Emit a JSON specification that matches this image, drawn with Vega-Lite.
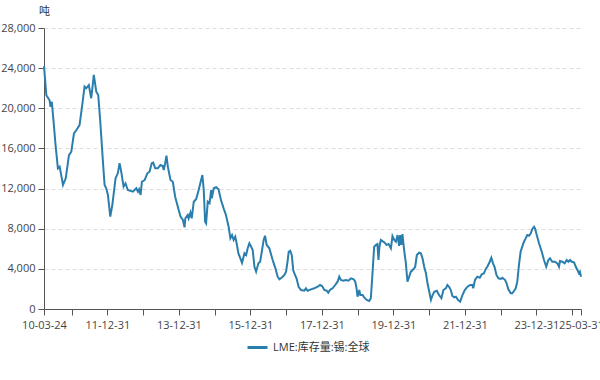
{
  "$schema": "https://vega.github.io/schema/vega-lite/v6.json",
  "width": 537,
  "height": 281,
  "autosize": "none",
  "padding": {"left": 44, "top": 28, "right": 19, "bottom": 71},
  "background": "#ffffff",
  "config": {
    "view": {"stroke": null},
    "font": "Open Sans, Noto Sans CJK SC, sans-serif"
  },
  "data": {
    "values": [
      {"date": "2010-03-24", "stock": 24200},
      {"date": "2010-04-17", "stock": 21300},
      {"date": "2010-05-20", "stock": 20800},
      {"date": "2010-05-30", "stock": 20150},
      {"date": "2010-06-12", "stock": 20650},
      {"date": "2010-06-30", "stock": 18660},
      {"date": "2010-07-20", "stock": 16340},
      {"date": "2010-08-13", "stock": 14020},
      {"date": "2010-08-31", "stock": 14180},
      {"date": "2010-10-04", "stock": 12360},
      {"date": "2010-11-01", "stock": 13020},
      {"date": "2010-12-04", "stock": 15340},
      {"date": "2010-12-28", "stock": 15670},
      {"date": "2011-01-24", "stock": 17500},
      {"date": "2011-02-18", "stock": 17840},
      {"date": "2011-03-22", "stock": 18330},
      {"date": "2011-04-19", "stock": 20330},
      {"date": "2011-05-12", "stock": 22150},
      {"date": "2011-05-29", "stock": 21990},
      {"date": "2011-06-25", "stock": 22320},
      {"date": "2011-07-19", "stock": 21000},
      {"date": "2011-07-29", "stock": 21820},
      {"date": "2011-08-15", "stock": 23320},
      {"date": "2011-09-09", "stock": 21650},
      {"date": "2011-09-29", "stock": 21320},
      {"date": "2011-10-20", "stock": 18660},
      {"date": "2011-11-16", "stock": 14680},
      {"date": "2011-12-03", "stock": 12360},
      {"date": "2011-12-20", "stock": 12030},
      {"date": "2012-01-06", "stock": 11360},
      {"date": "2012-01-30", "stock": 9200},
      {"date": "2012-02-20", "stock": 10360},
      {"date": "2012-03-24", "stock": 13020},
      {"date": "2012-04-16", "stock": 13520},
      {"date": "2012-05-04", "stock": 14520},
      {"date": "2012-05-21", "stock": 13680},
      {"date": "2012-06-14", "stock": 12190},
      {"date": "2012-07-04", "stock": 12520},
      {"date": "2012-07-27", "stock": 11860},
      {"date": "2012-09-17", "stock": 11690},
      {"date": "2012-10-22", "stock": 12030},
      {"date": "2012-11-08", "stock": 11690},
      {"date": "2012-11-20", "stock": 11930},
      {"date": "2012-12-05", "stock": 11360},
      {"date": "2012-12-18", "stock": 12680},
      {"date": "2013-01-15", "stock": 12850},
      {"date": "2013-02-12", "stock": 13520},
      {"date": "2013-03-06", "stock": 13680},
      {"date": "2013-03-29", "stock": 14520},
      {"date": "2013-04-13", "stock": 14580},
      {"date": "2013-05-03", "stock": 14020},
      {"date": "2013-05-29", "stock": 14020},
      {"date": "2013-06-26", "stock": 14350},
      {"date": "2013-07-19", "stock": 14250},
      {"date": "2013-07-29", "stock": 13850},
      {"date": "2013-08-13", "stock": 14520},
      {"date": "2013-08-26", "stock": 15280},
      {"date": "2013-09-09", "stock": 14180},
      {"date": "2013-10-06", "stock": 12850},
      {"date": "2013-10-30", "stock": 12680},
      {"date": "2013-11-23", "stock": 11190},
      {"date": "2013-12-20", "stock": 10190},
      {"date": "2014-01-17", "stock": 9200},
      {"date": "2014-02-10", "stock": 8870},
      {"date": "2014-02-27", "stock": 8140},
      {"date": "2014-03-07", "stock": 9040},
      {"date": "2014-03-31", "stock": 9370},
      {"date": "2014-04-10", "stock": 9040},
      {"date": "2014-04-28", "stock": 9600},
      {"date": "2014-05-11", "stock": 9040},
      {"date": "2014-06-01", "stock": 10690},
      {"date": "2014-06-25", "stock": 10930},
      {"date": "2014-07-21", "stock": 11860},
      {"date": "2014-08-15", "stock": 12850},
      {"date": "2014-08-28", "stock": 13350},
      {"date": "2014-09-11", "stock": 11860},
      {"date": "2014-09-25", "stock": 8700},
      {"date": "2014-10-05", "stock": 8540},
      {"date": "2014-10-22", "stock": 10690},
      {"date": "2014-11-09", "stock": 10530},
      {"date": "2014-11-26", "stock": 11860},
      {"date": "2014-12-02", "stock": 11030},
      {"date": "2014-12-22", "stock": 12030},
      {"date": "2015-01-16", "stock": 12130},
      {"date": "2015-02-09", "stock": 11930},
      {"date": "2015-03-06", "stock": 10860},
      {"date": "2015-04-02", "stock": 10030},
      {"date": "2015-04-26", "stock": 9370},
      {"date": "2015-05-23", "stock": 8200},
      {"date": "2015-06-10", "stock": 7040},
      {"date": "2015-06-27", "stock": 7370},
      {"date": "2015-07-13", "stock": 6880},
      {"date": "2015-07-30", "stock": 7200},
      {"date": "2015-08-13", "stock": 6550},
      {"date": "2015-08-31", "stock": 5550},
      {"date": "2015-09-20", "stock": 5050},
      {"date": "2015-10-07", "stock": 4600},
      {"date": "2015-11-01", "stock": 5550},
      {"date": "2015-11-18", "stock": 5380},
      {"date": "2015-12-04", "stock": 6050},
      {"date": "2015-12-21", "stock": 6550},
      {"date": "2016-01-08", "stock": 6210},
      {"date": "2016-01-24", "stock": 5880},
      {"date": "2016-02-11", "stock": 4210},
      {"date": "2016-02-28", "stock": 3720},
      {"date": "2016-03-22", "stock": 4550},
      {"date": "2016-04-09", "stock": 4710},
      {"date": "2016-04-29", "stock": 5880},
      {"date": "2016-05-15", "stock": 6880},
      {"date": "2016-05-29", "stock": 7300},
      {"date": "2016-06-15", "stock": 6380},
      {"date": "2016-07-12", "stock": 6050},
      {"date": "2016-08-15", "stock": 4880},
      {"date": "2016-09-12", "stock": 4050},
      {"date": "2016-10-05", "stock": 3220},
      {"date": "2016-10-23", "stock": 2960},
      {"date": "2016-11-20", "stock": 3160},
      {"date": "2016-12-13", "stock": 3390},
      {"date": "2016-12-30", "stock": 3720},
      {"date": "2017-01-16", "stock": 4880},
      {"date": "2017-01-26", "stock": 5710},
      {"date": "2017-02-10", "stock": 5810},
      {"date": "2017-02-26", "stock": 5380},
      {"date": "2017-03-13", "stock": 3890},
      {"date": "2017-03-31", "stock": 3390},
      {"date": "2017-04-16", "stock": 3060},
      {"date": "2017-05-07", "stock": 2220},
      {"date": "2017-06-01", "stock": 1890},
      {"date": "2017-07-04", "stock": 1820},
      {"date": "2017-07-21", "stock": 2060},
      {"date": "2017-08-07", "stock": 1820},
      {"date": "2017-09-11", "stock": 1960},
      {"date": "2017-10-14", "stock": 2060},
      {"date": "2017-11-18", "stock": 2220},
      {"date": "2017-12-12", "stock": 2390},
      {"date": "2018-01-02", "stock": 2290},
      {"date": "2018-01-25", "stock": 1890},
      {"date": "2018-02-18", "stock": 1820},
      {"date": "2018-03-06", "stock": 1620},
      {"date": "2018-03-23", "stock": 1890},
      {"date": "2018-04-19", "stock": 2060},
      {"date": "2018-05-16", "stock": 2390},
      {"date": "2018-06-09", "stock": 2720},
      {"date": "2018-06-26", "stock": 3220},
      {"date": "2018-07-13", "stock": 2890},
      {"date": "2018-08-06", "stock": 2820},
      {"date": "2018-09-03", "stock": 2890},
      {"date": "2018-09-29", "stock": 2820},
      {"date": "2018-10-24", "stock": 3060},
      {"date": "2018-11-20", "stock": 2960},
      {"date": "2018-12-07", "stock": 2720},
      {"date": "2018-12-20", "stock": 2060},
      {"date": "2018-12-30", "stock": 1230},
      {"date": "2019-01-17", "stock": 1890},
      {"date": "2019-01-27", "stock": 1390},
      {"date": "2019-02-20", "stock": 1390},
      {"date": "2019-03-07", "stock": 1160},
      {"date": "2019-04-04", "stock": 900},
      {"date": "2019-04-28", "stock": 800},
      {"date": "2019-05-15", "stock": 1070},
      {"date": "2019-06-01", "stock": 3560},
      {"date": "2019-06-18", "stock": 6210},
      {"date": "2019-07-05", "stock": 6380},
      {"date": "2019-07-21", "stock": 6480},
      {"date": "2019-08-01", "stock": 4880},
      {"date": "2019-08-11", "stock": 6210},
      {"date": "2019-08-25", "stock": 6880},
      {"date": "2019-09-18", "stock": 6710},
      {"date": "2019-10-05", "stock": 6610},
      {"date": "2019-10-22", "stock": 6380},
      {"date": "2019-11-12", "stock": 6480},
      {"date": "2019-12-06", "stock": 6050},
      {"date": "2019-12-22", "stock": 7270},
      {"date": "2020-01-09", "stock": 6880},
      {"date": "2020-01-26", "stock": 6710},
      {"date": "2020-02-12", "stock": 7370},
      {"date": "2020-02-28", "stock": 6280},
      {"date": "2020-03-09", "stock": 7370},
      {"date": "2020-03-22", "stock": 6380},
      {"date": "2020-04-02", "stock": 7470},
      {"date": "2020-04-19", "stock": 5880},
      {"date": "2020-05-07", "stock": 4550},
      {"date": "2020-05-23", "stock": 2720},
      {"date": "2020-06-10", "stock": 3220},
      {"date": "2020-06-27", "stock": 3720},
      {"date": "2020-07-23", "stock": 3960},
      {"date": "2020-08-10", "stock": 4210},
      {"date": "2020-08-27", "stock": 5380},
      {"date": "2020-09-20", "stock": 5610},
      {"date": "2020-10-07", "stock": 5550},
      {"date": "2020-10-24", "stock": 5050},
      {"date": "2020-11-10", "stock": 4210},
      {"date": "2020-11-28", "stock": 3560},
      {"date": "2020-12-14", "stock": 2560},
      {"date": "2021-01-01", "stock": 1720},
      {"date": "2021-01-18", "stock": 900},
      {"date": "2021-02-04", "stock": 1390},
      {"date": "2021-02-21", "stock": 1720},
      {"date": "2021-03-19", "stock": 1820},
      {"date": "2021-04-11", "stock": 1390},
      {"date": "2021-05-05", "stock": 1070},
      {"date": "2021-05-25", "stock": 1890},
      {"date": "2021-06-19", "stock": 2060},
      {"date": "2021-07-05", "stock": 2390},
      {"date": "2021-07-22", "stock": 2220},
      {"date": "2021-08-09", "stock": 1890},
      {"date": "2021-08-25", "stock": 1300},
      {"date": "2021-09-12", "stock": 1160},
      {"date": "2021-09-29", "stock": 1230},
      {"date": "2021-10-23", "stock": 900},
      {"date": "2021-11-13", "stock": 730},
      {"date": "2021-12-06", "stock": 1390},
      {"date": "2021-12-30", "stock": 1890},
      {"date": "2022-01-26", "stock": 2220},
      {"date": "2022-02-23", "stock": 2390},
      {"date": "2022-03-16", "stock": 2390},
      {"date": "2022-03-26", "stock": 2060},
      {"date": "2022-04-13", "stock": 2890},
      {"date": "2022-05-07", "stock": 3220},
      {"date": "2022-06-01", "stock": 3120},
      {"date": "2022-06-21", "stock": 3460},
      {"date": "2022-07-14", "stock": 3560},
      {"date": "2022-08-01", "stock": 3990},
      {"date": "2022-08-17", "stock": 4210},
      {"date": "2022-09-11", "stock": 4710},
      {"date": "2022-09-27", "stock": 5110},
      {"date": "2022-10-14", "stock": 4550},
      {"date": "2022-11-01", "stock": 4120},
      {"date": "2022-11-18", "stock": 3390},
      {"date": "2022-12-08", "stock": 3060},
      {"date": "2023-01-02", "stock": 2990},
      {"date": "2023-01-18", "stock": 3120},
      {"date": "2023-02-15", "stock": 2890},
      {"date": "2023-03-02", "stock": 2560},
      {"date": "2023-03-19", "stock": 1990},
      {"date": "2023-04-13", "stock": 1560},
      {"date": "2023-04-29", "stock": 1560},
      {"date": "2023-05-16", "stock": 1790},
      {"date": "2023-06-03", "stock": 2060},
      {"date": "2023-06-19", "stock": 2720},
      {"date": "2023-07-06", "stock": 4380},
      {"date": "2023-07-23", "stock": 5710},
      {"date": "2023-08-09", "stock": 6210},
      {"date": "2023-08-26", "stock": 6710},
      {"date": "2023-09-13", "stock": 7040},
      {"date": "2023-09-29", "stock": 7370},
      {"date": "2023-10-17", "stock": 7300},
      {"date": "2023-11-04", "stock": 7540},
      {"date": "2023-11-20", "stock": 7970},
      {"date": "2023-12-07", "stock": 8200},
      {"date": "2023-12-17", "stock": 8040},
      {"date": "2024-01-04", "stock": 7370},
      {"date": "2024-01-27", "stock": 6550},
      {"date": "2024-02-24", "stock": 5710},
      {"date": "2024-03-18", "stock": 4880},
      {"date": "2024-04-10", "stock": 4210},
      {"date": "2024-05-01", "stock": 4880},
      {"date": "2024-05-18", "stock": 5050},
      {"date": "2024-06-11", "stock": 4710},
      {"date": "2024-07-08", "stock": 4710},
      {"date": "2024-08-01", "stock": 4550},
      {"date": "2024-08-18", "stock": 4210},
      {"date": "2024-08-28", "stock": 4780},
      {"date": "2024-09-21", "stock": 4710},
      {"date": "2024-10-15", "stock": 4550},
      {"date": "2024-11-05", "stock": 4880},
      {"date": "2024-11-22", "stock": 4710},
      {"date": "2024-12-09", "stock": 4880},
      {"date": "2024-12-26", "stock": 4710},
      {"date": "2025-01-19", "stock": 4650},
      {"date": "2025-02-06", "stock": 4210},
      {"date": "2025-02-22", "stock": 3890},
      {"date": "2025-03-09", "stock": 3560},
      {"date": "2025-03-20", "stock": 3720},
      {"date": "2025-03-31", "stock": 3220}
    ]
  },
  "transform": [{"calculate": "'LME:库存量:锡:全球'", "as": "series"}],
  "mark": {"type": "line", "strokeWidth": 2, "interpolate": "linear"},
  "encoding": {
    "x": {
      "field": "date",
      "type": "temporal",
      "scale": {"type": "utc", "domain": [{"year": 2010, "month": 3, "date": 24, "utc": true}, {"year": 2025, "month": 3, "date": 31, "utc": true}], "nice": false},
      "axis": {
        "title": null,
        "grid": false,
        "values": [
          {"year": 2010, "month": 3, "date": 24, "utc": true},
          {"year": 2010, "month": 12, "date": 31, "utc": true},
          {"year": 2011, "month": 12, "date": 31, "utc": true},
          {"year": 2012, "month": 12, "date": 31, "utc": true},
          {"year": 2013, "month": 12, "date": 31, "utc": true},
          {"year": 2014, "month": 12, "date": 31, "utc": true},
          {"year": 2015, "month": 12, "date": 31, "utc": true},
          {"year": 2016, "month": 12, "date": 31, "utc": true},
          {"year": 2017, "month": 12, "date": 31, "utc": true},
          {"year": 2018, "month": 12, "date": 31, "utc": true},
          {"year": 2019, "month": 12, "date": 31, "utc": true},
          {"year": 2020, "month": 12, "date": 31, "utc": true},
          {"year": 2021, "month": 12, "date": 31, "utc": true},
          {"year": 2022, "month": 12, "date": 31, "utc": true},
          {"year": 2023, "month": 12, "date": 31, "utc": true},
          {"year": 2024, "month": 12, "date": 31, "utc": true},
          {"year": 2025, "month": 3, "date": 31, "utc": true}
        ],
        "labelExpr": "(utcyear(datum.value) % 2 == 1 || utcmonth(datum.value) == 2) ? utcFormat(datum.value, '%y-%m-%d') : ''",
        "labelOverlap": false,
        "labelFlush": false,
        "labelFontSize": 11,
        "labelColor": "#444444",
        "labelPadding": 4,
        "tickSize": 6,
        "tickColor": "#555555",
        "domainColor": "#555555"
      }
    },
    "y": {
      "field": "stock",
      "type": "quantitative",
      "scale": {"domain": [0, 28000], "nice": false},
      "axis": {
        "title": "吨",
        "titleAngle": 0,
        "titleX": 0,
        "titleY": -17,
        "titleAlign": "center",
        "titleBaseline": "middle",
        "titleFontSize": 11,
        "titleFontWeight": "normal",
        "titleColor": "#333333",
        "values": [0, 4000, 8000, 12000, 16000, 20000, 24000, 28000],
        "format": ",d",
        "labelFontSize": 11,
        "labelColor": "#444444",
        "labelPadding": 3,
        "tickSize": 6,
        "tickColor": "#555555",
        "domainColor": "#555555",
        "grid": true,
        "gridColor": "#dddddd",
        "gridDash": [4, 3]
      }
    },
    "color": {
      "field": "series",
      "type": "nominal",
      "scale": {"range": ["#2a7ead"]},
      "legend": {
        "title": null,
        "orient": "none",
        "legendX": 202,
        "legendY": 308,
        "direction": "horizontal",
        "symbolType": "stroke",
        "symbolSize": 400,
        "symbolStrokeWidth": 3,
        "labelFontSize": 11,
        "labelColor": "#333333",
        "padding": 0
      }
    }
  }
}
